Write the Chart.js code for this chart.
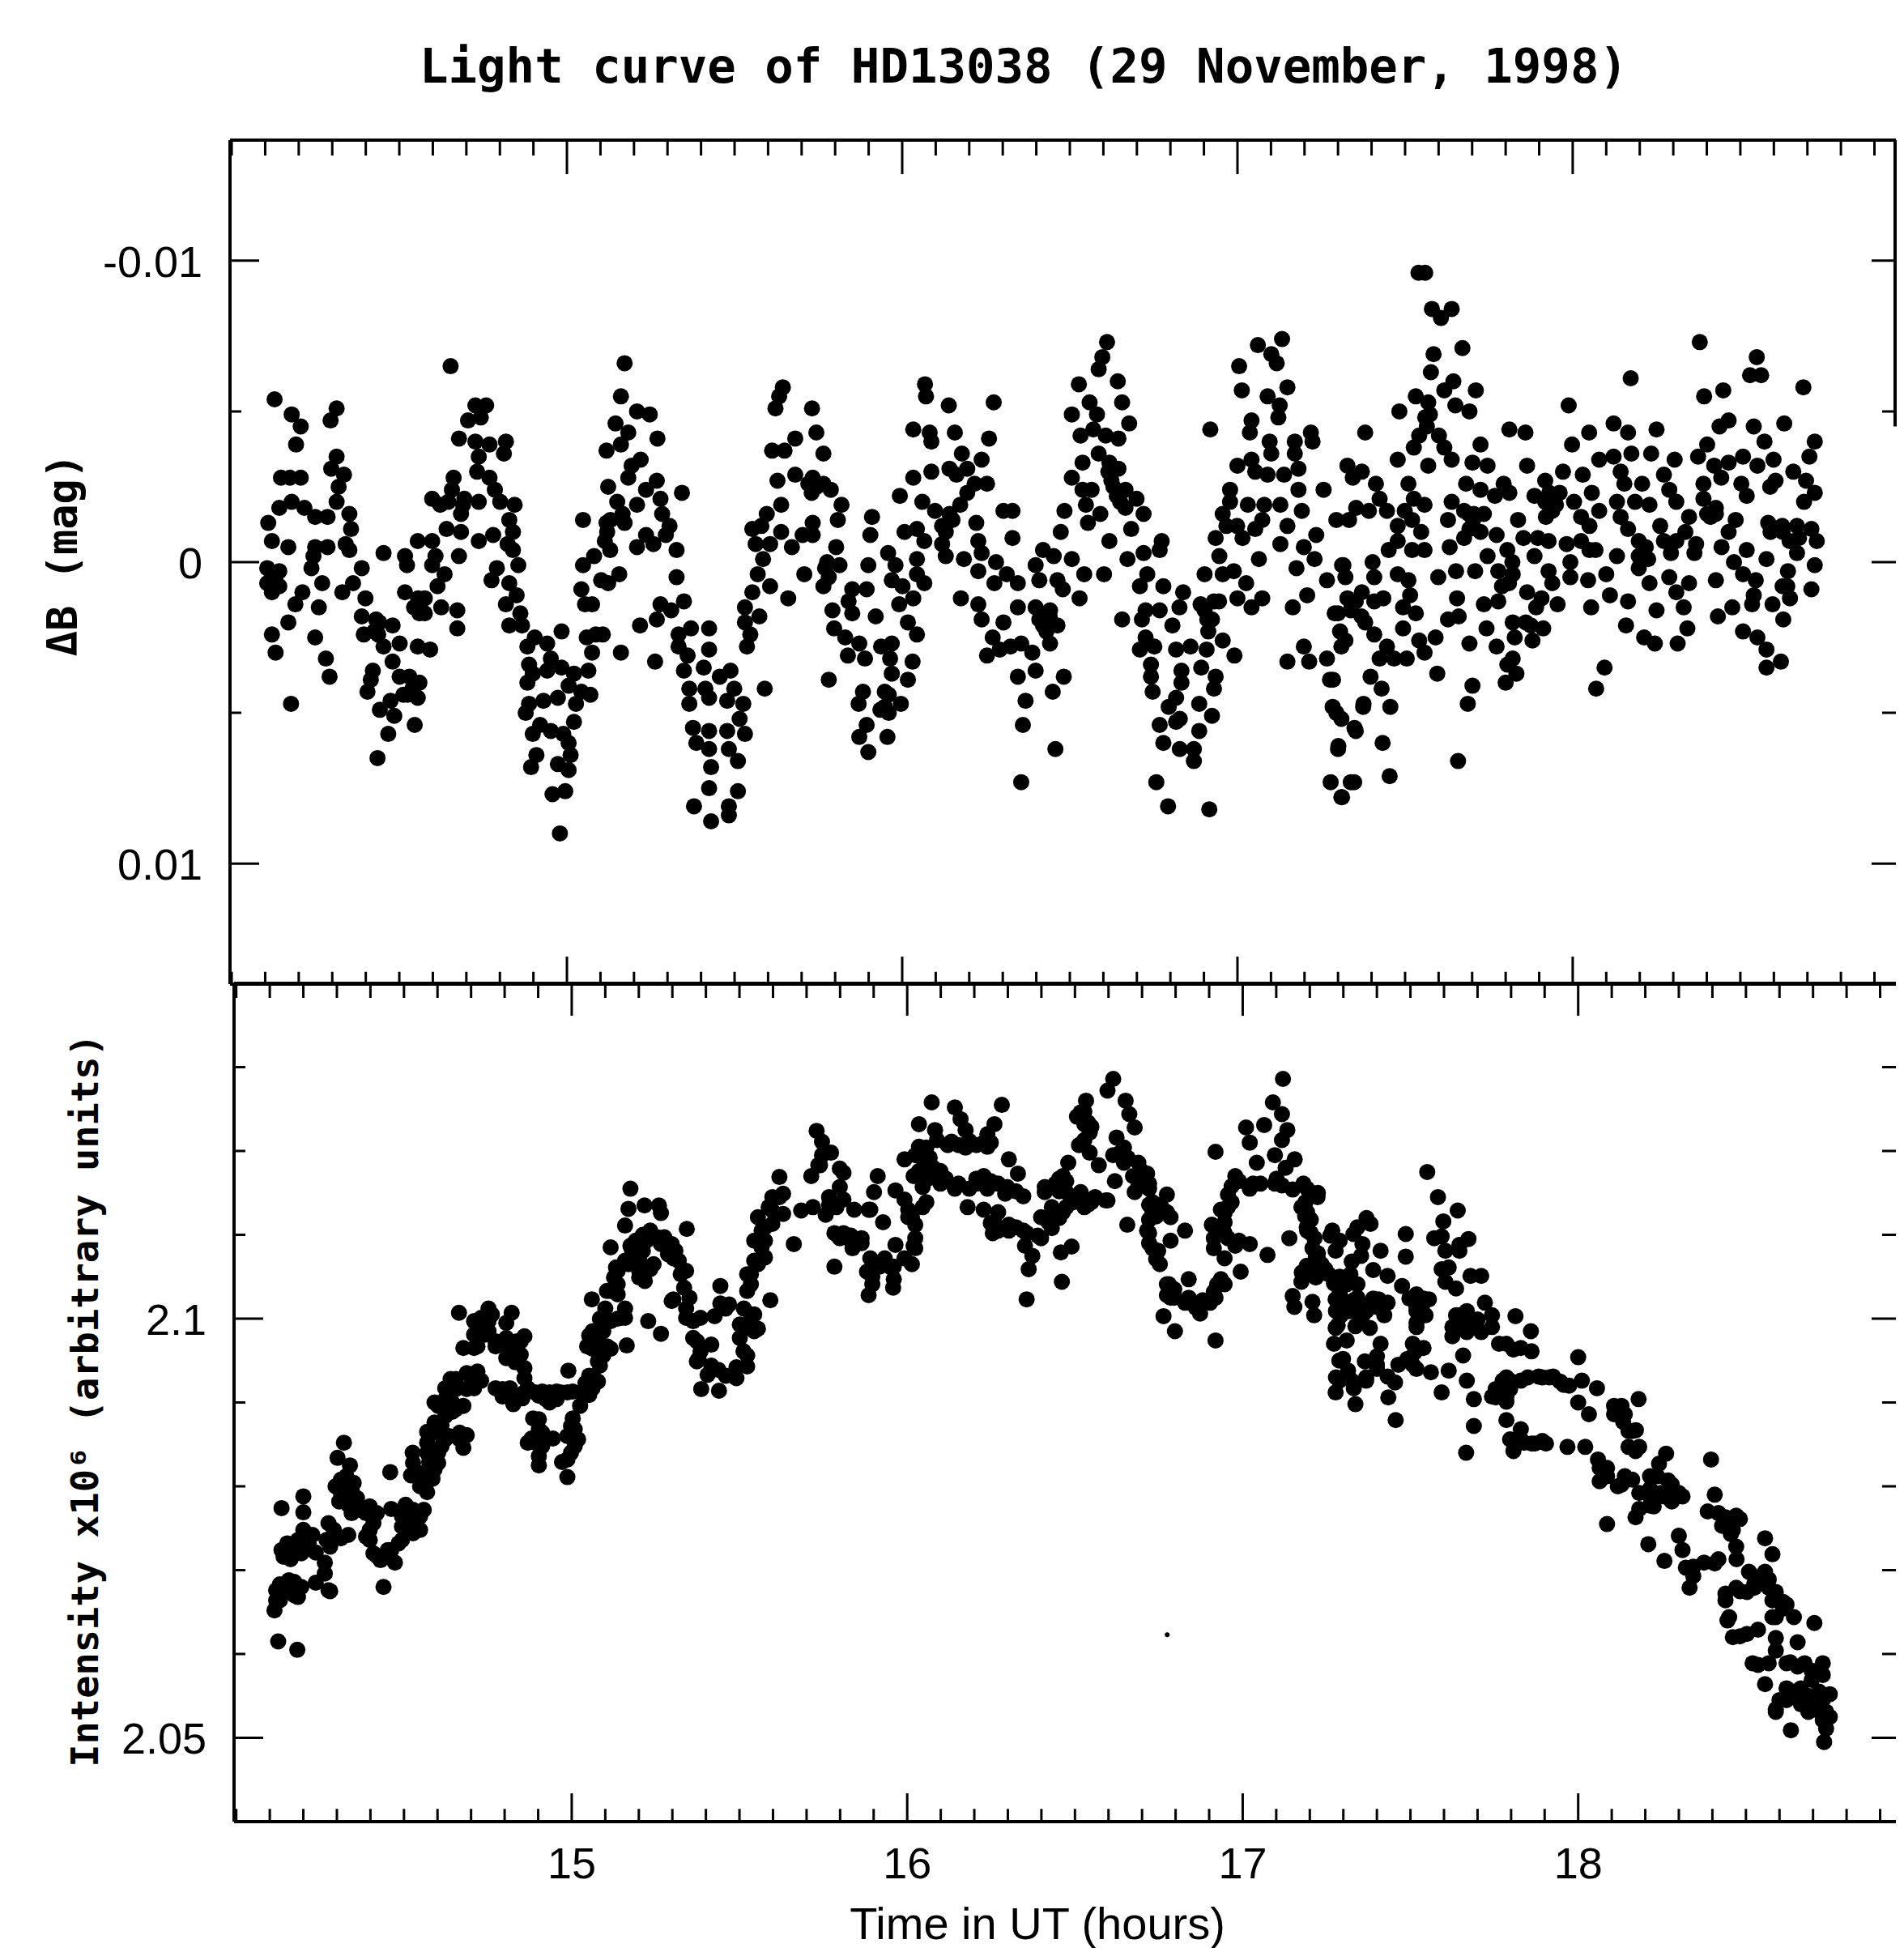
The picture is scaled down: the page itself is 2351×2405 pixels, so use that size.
<!DOCTYPE html>
<html>
<head>
<meta charset="utf-8">
<title>Light curve of HD13038</title>
<script src="https://cdn.jsdelivr.net/npm/chart.js@4"></script>
<style>
  html, body { margin: 0; padding: 0; background: #fff; }
  body { position: relative; width: 2351px; height: 2405px; overflow: hidden; }
  canvas { position: absolute; left: 0; }
  #topPanel { top: 0; }
  #bottomPanel { top: 1204px; }
  .label { position: absolute; color: #000; white-space: nowrap; transform: translate(-50%, -50%); }
  .rot { transform: translate(-50%, -50%) rotate(-90deg); }
  .hershey { font-family: "DejaVu Sans Mono", monospace; font-weight: bold; }
  .plain { font-family: "Liberation Sans", Arial, sans-serif; }
</style>
</head>
<body>
<div class="label hershey" style="left:1264px;top:81px;font-size:59px">Light curve of HD13038 (29 November, 1998)</div>
<div class="label rot hershey" style="left:77px;top:685px;font-size:52px">ΔB (mag)</div>
<div class="label rot hershey" style="left:104px;top:1729px;font-size:47px">Intensity x10⁶ (arbitrary units)</div>
<div class="label plain" style="left:1281px;top:2374px;font-size:56px">Time in UT (hours)</div>
<canvas id="topPanel" width="2351" height="1225"></canvas>
<canvas id="bottomPanel" width="2351" height="1201"></canvas>
<script>
// x ticks, one every 0.1 h, labelled on the hour
const hourTicks = [14,14.1,14.2,14.3,14.4,14.5,14.6,14.7,14.8,14.9,15,15.1,15.2,15.3,15.4,15.5,15.6,15.7,15.8,15.9,16,16.1,16.2,16.3,16.4,16.5,16.6,16.7,16.8,16.9,17,17.1,17.2,17.3,17.4,17.5,17.6,17.7,17.8,17.9,18,18.1,18.2,18.3,18.4,18.5,18.6,18.7,18.8,18.9];
const hourLabels = [15, 16, 17, 18];
const dbTicks = [-0.01, -0.005, 0, 0.005, 0.01];
const dbLabels = [-0.01, 0, 0.01];
const intensityTicks = [2.05, 2.06, 2.07, 2.08, 2.09, 2.1, 2.11, 2.12, 2.13];
const intensityLabels = [2.05, 2.1];

// [time in UT, delta B]
const deltaB = [
[14.128,-.0054],[14.179,-.0049],[14.206,-.0045],[14.313,-.0051],[14.295,-.0047],[14.192,-.0039],[14.313,-.0035],[14.297,-.0031],[14.335,-.0029],[14.319,-.0025],[14.147,-.0028],[14.174,-.0028],[14.206,-.0028],
[14.142,-.0018],[14.179,-.0020],[14.217,-.0018],[14.249,-.0015],[14.286,-.0015],[14.313,-.0020],[14.351,-.0016],[14.356,-.0011],[14.340,-.0006],[14.286,-.0005],[14.249,-.0005],[14.109,-.0013],[14.120,-.0007],[14.169,-.0005],
[14.106,.0002],[14.131,.0006],[14.120,.0010],[14.142,.0003],[14.244,-.0002],[14.238,.0002],[14.270,.0007],[14.351,-.0004],[14.388,.0002],[14.362,.0007],[14.330,.0010],
[14.211,.0010],[14.190,.0014],[14.260,.0015],[14.169,.0020],[14.120,.0024],[14.131,.0030],[14.249,.0025],[14.281,.0032],[14.292,.0038],[14.177,.0047],[14.453,-.0003],
[14.399,.0012],[14.388,.0018],[14.431,.0019],[14.394,.0024],[14.437,.0024],[14.480,.0021],[14.453,.0028],[14.501,.0027],[14.555,.0028],[14.592,.0029],[14.480,.0033],[14.421,.0036],[14.415,.0039],[14.405,.0043],[14.501,.0038],[14.539,.0042],[14.512,.0044],[14.474,.0046],[14.442,.0049],[14.555,.0045],
[14.485,.0051],[14.546,.0054],[14.467,.0057],[14.435,.0065],
[14.517,-.0002],[14.523,.0001],[14.555,-.0007],[14.598,-.0007],[14.608,-.0002],[14.641,-.0011],[14.598,.0001],[14.635,.0004],
[14.517,.0010],[14.544,.0015],[14.576,.0012],[14.576,.0017],[14.614,.0008],[14.673,.0016],[14.673,.0022],[14.625,.0015],[14.678,-.0002],[14.653,-.0065],
[14.727,-.0052],[14.759,-.0052],[14.705,-.0047],[14.743,-.0048],[14.678,-.0041],[14.727,-.0040],[14.769,-.0039],[14.818,-.0040],[14.812,-.0036],[14.737,-.0035],[14.732,-.0030],[14.769,-.0028],[14.662,-.0028],[14.657,-.0024],[14.598,-.0021],[14.646,-.0020],[14.694,-.0021],[14.737,-.0020],[14.785,-.0024],[14.801,-.0020],[14.844,-.0019],[14.684,-.0016],[14.828,-.0014],[14.839,-.0010],[14.684,-.0010],[14.737,-.0007],[14.780,-.0009],[14.823,-.0006],[14.839,-.0004],[14.791,.0002],[14.775,.0006],[14.855,.0001],
[14.828,.0007],[14.850,.0011],[14.818,.0014],[14.861,.0017],[14.828,.0021],[14.866,.0021],[14.984,.0023],
[14.904,.0025],[14.882,.0028],[14.887,.0034],[14.941,.0027],[14.952,.0032],[14.898,.0037],[14.882,.0040],[14.941,.0036],[14.984,.0035],[15.021,.0037],[15.005,.0041],
[15.086,.0024],[15.059,.0025],[15.107,.0024],[15.075,.0030],[15.064,.0036],[15.161,.0030],[15.043,.0043],[15.070,.0044],[14.887,.0047],[14.930,.0046],[14.973,.0045],[14.877,.0050],[15.027,.0047],[15.021,.0053],[14.920,.0054],[14.898,.0057],[14.952,.0056],[14.989,.0057],[15.005,.0060],[15.011,.0064],[14.909,.0064],[14.893,.0068],[14.973,.0067],[15.005,.0069],[14.957,.0077],[14.995,.0076],[14.979,.0090],
[15.054,.0014],[15.075,.0014],[15.043,.0009],[15.048,.0001],[15.081,-.0002],[15.102,.0006],[15.156,.0004],[15.123,.0007],[15.048,-.0014],[15.118,-.0013],[15.113,-.0007],[15.129,-.0004],
[15.172,-.0066],[15.161,-.0055],[15.209,-.0050],[15.247,-.0049],[15.145,-.0046],[15.183,-.0043],[15.161,-.0039],[15.118,-.0037],[15.270,-.0041],
[15.220,-.0034],[15.193,-.0032],[15.183,-.0028],[15.268,-.0027],[15.123,-.0025],[15.150,-.0020],[15.236,-.0024],[15.279,-.0021],[15.343,-.0023],[15.166,-.0016],[15.209,-.0019],[15.284,-.0016],[15.306,-.0012],[15.236,-.0009],[15.295,-.0009],[15.209,-.0005],[15.258,-.0006],[15.327,-.0004],[15.172,-.0013],
[15.327,.0005],[15.279,.0014],[15.311,.0016],[15.349,.0013],[15.268,.0019],[15.218,.0021],
[15.333,.0024],[15.370,.0022],[15.424,.0022],[15.333,.0028],[15.360,.0031],[15.349,.0036],[15.424,.0029],[15.408,.0035],[15.263,.0033],[15.590,.0042],
[15.488,.0036],[15.456,.0038],[15.365,.0042],[15.413,.0042],[15.365,.0047],[15.424,.0045],[15.499,.0042],[15.526,.0047],[15.478,.0046],[15.515,.0052],
[15.376,.0055],[15.424,.0056],[15.478,.0056],[15.531,.0057],[15.386,.0060],[15.424,.0062],[15.483,.0062],[15.510,.0066],[15.430,.0068],[15.424,.0075],[15.510,.0076],[15.483,.0081],[15.483,.0084],[15.379,.0081],[15.430,.0086],
[15.537,.0028],[15.547,.0024],[15.531,.0020],[15.574,.0018],[15.531,.0015],[15.553,.0010],[15.606,.0008],[15.569,.0004],[15.585,-.0001],[15.563,-.0006],[15.553,-.0011],[15.660,.0012],[15.708,.0004],
[15.633,-.0055],[15.622,-.0051],[15.644,-.0058],[15.681,-.0041],[15.612,-.0037],[15.649,-.0037],[15.628,-.0027],[15.681,-.0029],[15.596,-.0016],[15.639,-.0019],[15.580,-.0012],[15.606,-.0006],[15.639,-.0010],[15.671,-.0005],[15.703,-.0009],
[15.731,-.0051],[15.744,-.0043],[15.765,-.0036],[15.733,-.0028],[15.765,-.0026],[15.787,-.0024],[15.819,-.0019],[15.808,-.0014],[15.733,-.0013],[15.733,-.0009],[15.910,-.0015],[15.905,-.0009],[15.899,.0001],
[15.803,-.0005],[15.776,.0000],[15.813,.0001],[15.781,.0005],[15.765,.0008],[15.851,.0009],[15.894,.0009],[15.840,.0013],[15.792,.0016],[15.851,.0017],[15.921,.0018],[15.797,.0022],[15.830,.0025],[15.872,.0027],[15.937,.0028],[15.969,.0027],[15.838,.0031],[15.889,.0032],[15.964,.0032],[16.031,.0033],[15.969,.0037],[16.017,.0039],[15.781,.0039],[15.948,.0043],[15.883,.0043],[15.870,.0047],[15.948,.0048],[15.996,.0047],[15.894,.0054],[15.872,.0058],[15.899,.0063],[15.956,.0058],
[15.958,-.0003],[15.980,.0001],[15.969,.0006],[16.001,.0008],[16.044,-.0001],[16.044,.0004],[16.066,.0007],[16.033,.0012],[15.991,.0014],[16.017,.0020],[16.044,.0024],[15.993,-.0022],
[16.068,-.0059],[16.071,-.0055],[16.139,-.0052],[16.273,-.0053],[16.033,-.0044],[16.082,-.0043],[16.087,-.0040],[16.157,-.0043],[16.259,-.0041],
[16.178,-.0036],[16.237,-.0034],[16.033,-.0028],[16.087,-.0030],[16.141,-.0031],[16.194,-.0031],[16.162,-.0029],[16.216,-.0026],[16.253,-.0026],[16.194,-.0023],[16.060,-.0020],[16.098,-.0017],[16.173,-.0019],[16.141,-.0016],[16.302,-.0017],[16.329,-.0008],[16.329,-.0017],
[16.221,-.0013],[16.119,-.0012],[16.007,-.0010],[16.044,-.0011],[16.066,-.0007],[16.119,-.0006],[16.227,-.0007],[16.130,-.0002],[16.184,-.0001],[16.237,-.0003],[16.227,.0003],[16.280,.0000],[16.312,.0004],[16.275,.0007],[16.345,.0007],
[16.420,-.0004],[16.398,.0001],[16.452,-.0002],[16.506,-.0001],[16.409,.0006],[16.463,.0006],[16.543,.0004],[16.602,.0004],[16.479,.0009],[16.529,.0012],[16.175,.0012],[16.473,-.0010],[16.484,-.0017],[16.618,-.0007],
[16.227,.0014],[16.237,.0019],[16.270,.0025],[16.302,.0020],[16.355,.0027],[16.323,.0028],[16.291,.0029],[16.253,.0031],[16.398,.0015],[16.441,.0016],[16.463,.0021],[16.409,.0019],[16.441,.0027],[16.388,.0030],[16.398,.0036],[16.345,.0015],[16.345,.0038],[16.482,.0038],[16.449,.0043],[16.368,.0046],[16.360,.0054],[16.457,.0062],[16.355,.0073],
[16.611,-.0073],[16.597,-.0068],[16.586,-.0064],[16.643,-.0060],[16.656,-.0053],[16.527,-.0059],[16.559,-.0053],[16.506,-.0049],[16.581,-.0049],[16.677,-.0046],[16.532,-.0042],[16.570,-.0044],[16.645,-.0041],[16.607,-.0042],[16.586,-.0036],[16.618,-.0033],[16.538,-.0033],[16.506,-.0028],[16.645,-.0031],[16.624,-.0027],[16.538,-.0024],[16.565,-.0024],[16.666,-.0024],[16.548,-.0019],[16.640,-.0022],[16.699,-.0021],[16.591,-.0016],[16.554,-.0013],[16.666,-.0018],[16.720,-.0016],[16.683,-.0011],
[16.774,-.0007],[16.768,-.0004],[16.720,-.0003],[16.672,-.0001],[16.731,.0004],[16.709,.0008],[16.779,.0008],
[16.656,.0019],[16.726,.0016],[16.768,.0016],[16.715,.0019],[16.806,.0021],[16.726,.0025],[16.709,.0029],[16.752,.0028],[16.817,.0029],[16.860,.0028],[16.908,.0029],[16.956,.0026],[16.991,.0031],
[16.742,.0034],[16.742,.0038],[16.747,.0043],[16.833,.0036],[16.833,.0040],[16.892,.0035],[16.935,.0038],[16.930,.0042],[16.817,.0045],[16.886,.0047],[16.795,.0048],[16.828,.0052],[16.924,.0051],[16.768,.0054],[16.817,.0053],[16.886,.0056],[16.779,.0060],[16.828,.0062],[16.870,.0062],[16.870,.0066],[16.758,.0073],[16.793,.0081],[16.916,.0082],
[16.838,.0010],[16.827,.0015],[16.902,.0016],[16.945,.0013],[16.924,.0019],[16.913,.0023],[17.042,.0015],[17.074,.0012],[17.000,.0012],[17.026,.0007],[16.902,.0004],[16.956,.0004],[16.989,.0003],[16.946,-.0002],[16.935,-.0008],[16.919,-.0044],[16.967,-.0012],[16.956,-.0016],
[17.133,-.0074],[17.061,-.0072],[17.101,-.0069],[17.117,-.0066],[17.005,-.0065],[17.013,-.0057],[17.090,-.0055],[17.149,-.0058],[17.126,-.0052],[17.122,-.0048],[17.042,-.0047],[17.037,-.0043],[17.219,-.0043],[17.224,-.0040],[17.096,-.0040],[17.101,-.0036],[17.171,-.0040],[17.171,-.0036],[17.042,-.0034],[17.000,-.0032],[17.053,-.0030],[17.182,-.0031],[17.090,-.0029],[17.139,-.0029],[16.978,-.0024],[16.978,-.0020],[17.182,-.0024],[17.257,-.0024],[17.031,-.0019],[17.080,-.0019],[17.128,-.0019],[17.192,-.0017],[17.074,-.0014],[16.999,-.0012],[17.053,-.0011],[17.149,-.0012],[17.015,-.0008],[17.128,-.0006],[17.235,-.0009],[17.198,-.0005],[17.064,-.0001],[17.230,-.0001],[17.176,.0002],[17.316,.0001],[17.267,.0006],[17.208,.0011],[17.165,.0015],
[17.198,.0028],[17.214,.0033],[17.267,.0032],[17.149,.0033],[17.276,.0039],[17.284,.0048],[17.310,.0052],[17.353,.0056],[17.300,.0062],[17.278,.0073],[17.348,.0073],[17.310,.0078],[17.375,.0048],[17.300,.0017],[17.353,.0013],[17.310,.0028],
[17.54,-.0096],[17.56,-.0096],[17.580,-.0084],[17.639,-.0084],[17.607,-.0081],[17.585,-.0069],[17.671,-.0071],[17.577,-.0063],
[17.644,-.0060],[17.617,-.0057],[17.711,-.0057],[17.532,-.0055],[17.569,-.0053],[17.483,-.0050],[17.650,-.0052],[17.692,-.0050],[17.574,-.0049],[17.381,-.0043],[17.542,-.0042],[17.601,-.0042],[17.526,-.0038],[17.617,-.0038],[17.478,-.0034],[17.569,-.0032],[17.639,-.0034],[17.725,-.0039],[17.701,-.0033],[17.746,-.0032],
[17.328,-.0032],[17.371,-.0030],[17.344,-.0028],[17.413,-.0026],[17.424,-.0021],[17.510,-.0026],[17.526,-.0021],[17.558,-.0019],
[17.354,-.0018],[17.295,-.0014],[17.333,-.0014],[17.392,-.0017],[17.446,-.0017],[17.499,-.0017],[17.478,-.0012],[17.521,-.0014],[17.478,-.0007],[17.548,-.0010],[17.558,-.0004],[17.521,-.0004],[17.451,-.0004],[17.403,.0000],
[17.312,.0001],[17.322,.0005],[17.408,.0005],[17.478,.0004],[17.510,.0006],[17.515,.0011],[17.494,.0015],
[17.371,.0010],[17.328,.0012],[17.408,.0013],[17.435,.0012],[17.290,.0017],[17.338,.0016],[17.306,.0023],[17.322,.0026],
[17.381,.0020],[17.408,.0024],[17.446,.0028],[17.424,.0032],[17.467,.0032],[17.505,.0032],
[17.397,.0038],[17.430,.0042],[17.376,.0047],[17.456,.0048],[17.285,.0039],[17.295,.0050],[17.349,.0055],[17.301,.0061],[17.433,.0060],[17.454,.0071],[17.338,.0073],[17.312,.0078],
[17.532,.0017],[17.494,.0022],[17.542,.0026],[17.591,.0025],[17.558,.0030],[17.628,.0019],[17.660,.0018],[17.655,.0012],[17.596,.0037],
[17.701,.0041],[17.687,.0047],[17.658,.0066],[17.692,.0027],[17.773,.0028],[17.743,.0022],[17.599,.0005],[17.652,.0003],[17.709,.0003],
[17.639,-.0020],[17.628,-.0014],[17.676,-.0017],[17.703,-.0014],[17.735,-.0016],[17.692,-.0011],[17.633,-.0005],[17.676,-.0008],[17.725,-.0010],[17.773,-.0009],[17.805,-.0004],
[17.682,-.0026],[17.725,-.0024],[17.794,-.0026],[17.811,-.0023],[17.768,-.0022],
[17.811,-.0044],[17.859,-.0043],[17.988,-.0052],[18.173,-.0061],[18.379,-.0073],[18.549,-.0068],[18.529,-.0062],[18.562,-.0062],[18.688,-.0058],[18.392,-.0055],[18.449,-.0057],
[17.864,-.0032],[17.998,-.0039],[18.049,-.0043],[17.971,-.0030],[18.030,-.0029],[18.122,-.0046],[18.165,-.0043],[18.250,-.0044],
[18.079,-.0034],[18.122,-.0035],[18.175,-.0036],[18.234,-.0036],[18.304,-.0034],[18.143,-.0030],[18.154,-.0026],[18.207,-.0026],[18.272,-.0029],[18.288,-.0024],[18.309,-.0020],[18.374,-.0035],[18.401,-.0039],[18.438,-.0045],[18.465,-.0047],[18.540,-.0045],[18.572,-.0040],[18.631,-.0046],[18.599,-.0034],[18.722,-.0040],[18.706,-.0035],
[18.422,-.0032],[18.465,-.0033],[18.508,-.0035],[18.551,-.0032],[18.390,-.0026],[18.443,-.0028],[18.503,-.0026],[18.519,-.0022],[18.605,-.0027],[18.589,-.0025],[18.658,-.0030],[18.696,-.0027],[18.722,-.0023],[18.690,-.0020],
[18.390,-.0021],[18.401,-.0016],[18.427,-.0016],
[17.918,-.0027],[17.886,-.0022],[17.918,-.0020],[17.961,-.0023],[18.004,-.0020],[18.057,-.0023],[17.837,-.0014],[17.939,-.0017],[18.025,-.0015],[18.079,-.0017],[18.132,-.0020],[18.186,-.0020],[18.229,-.0019],
[17.853,-.0008],[17.896,-.0008],[17.928,-.0007],[18.025,-.0007],[18.068,-.0004],[17.886,-.0002],[17.982,-.0006],[17.928,.0003],[17.993,.0000],[17.939,.0007],[17.993,.0005],[18.046,.0006],[18.100,.0004],[18.132,-.0002],[18.197,.0002],[18.143,-.0015],[18.165,-.0011],[18.197,-.0007],[18.261,-.0012],[18.272,-.0007],[18.309,-.0007],[18.218,-.0005],[18.197,-.0002],[18.347,-.0015],[18.411,-.0015],[18.427,-.0018],[18.336,-.0010],[18.368,-.0006],[18.293,-.0003],[18.363,-.0003],[18.288,.0005],[18.347,.0007],[18.229,.0007],[18.309,.0010],[18.331,.0015],[18.342,.0022],
[18.055,.0015],[18.111,.0011],[18.165,.0013],[18.250,.0016],[18.159,.0021],[18.213,.0025],[18.245,.0027],[18.313,.0027],[18.095,.0035],[18.070,.0042],
[17.746,-.0002],[17.778,.0003],[17.821,.0004],[17.789,.0008],[17.735,.0014],[17.778,.0013],[17.864,.0010],[17.907,.0012],[17.955,.0014],[17.891,.0015],[17.821,.0020],[17.875,.0021],[17.912,.0022],[17.827,.0025],[17.880,.0026],[17.821,.0032],[17.805,.0034],[17.832,.0037],[17.800,.0040],
[18.486,-.0014],[18.465,-.0010],[18.444,-.0005],[18.583,-.0013],[18.626,-.0010],[18.669,-.0012],[18.712,-.0011],[18.728,-.0007],[18.647,-.0007],[18.669,-.0003],[18.519,-.0004],[18.481,.0000],[18.578,-.0001],[18.722,.0001],[18.642,.0003],[18.626,.0008],[18.427,.0006],[18.508,.0004],[18.546,.0006],[18.540,.0011],[18.648,.0012],[18.712,.0009],[18.596,.0014],[18.535,.0014],[18.476,.0015],[18.433,.0018],[18.628,.0019],[18.508,.0023],[18.551,.0025],[18.578,.0029],[18.621,.0033],[18.578,.0035],
[14.120,.0004],[14.142,.0008],[14.106,.0007],[14.556,.0012],[14.560,.0017],[14.525,.0044],[14.560,.0040],[14.530,.0038],[14.425,.0023],[14.440,.0020],[14.622,-.0019],[14.690,-.0019],[15.120,-.0010],[15.130,-.0014],[15.720,-.0026],[15.745,-.0025],[15.730,-.0023],[15.770,.0002],[15.960,.0044],[15.960,.0050],[15.935,.0049],[16.615,-.0030],[16.630,-.0025],[16.650,-.0020],[16.910,.0019],[16.930,.0013],[16.890,.0014],[16.420,.0021],[16.440,.0018],[16.430,.0023],[17.340,.0014],[17.370,.0018],[16.130,-.0010],[16.150,-.0014],[17.560,-.0048],[17.565,-.0045],[17.930,-.0023],[17.950,-.0019],[17.920,-.0015],[17.705,-.0016],[17.690,-.0016],[17.810,.0007],[17.820,.0000],[18.590,-.0010],[18.625,-.0012],[18.675,-.0008],[18.640,.0008],[17.860,.0020],[18.050,-.0012],[18.050,-.0004],[18.205,-.0001],[18.225,-.0001]
];

// [time in UT, intensity]
const intensity = [
[14.125,2.0615],[14.182,2.0605],[14.114,2.0652],[14.119,2.0664],[14.130,2.0683],[14.173,2.0670],[14.157,2.0688],[14.280,2.0675],[14.237,2.0685],[14.162,2.0728],[14.216,2.0732],[14.269,2.0736],[14.312,2.0738],[14.162,2.0713],[14.237,2.0721],[14.264,2.0709],[14.264,2.0696],[14.200,2.0748],[14.200,2.0769],[14.200,2.0788],[14.135,2.0774],[14.275,2.0756],[14.439,2.0680],
[14.321,2.0852],[14.302,2.0834],[14.339,2.0825],[14.312,2.0808],[14.350,2.0804],[14.323,2.0788],[14.360,2.0786],[14.344,2.0773],[14.398,2.0776],[14.459,2.0817],[14.409,2.0756],[14.462,2.0773],[14.505,2.0778],[14.548,2.0764],[14.548,2.0748],[14.398,2.0736],[14.505,2.0748],[14.484,2.0732],[14.452,2.0717],[14.419,2.0717],[14.473,2.0709],
[14.569,2.0793],[14.585,2.0809],[14.521,2.0813],[14.575,2.0829],[14.526,2.0840],[14.569,2.0852],[14.612,2.0848],[14.677,2.0846],[14.687,2.0861],[14.569,2.0865],[14.612,2.0873],[14.644,2.0889],[14.591,2.0900],[14.623,2.0917],[14.655,2.0928],[14.687,2.0935],[14.719,2.0937],[14.709,2.0917],[14.644,2.0900],[14.677,2.0896],
[14.664,2.1007],[14.752,2.1012],[14.730,2.1001],[14.821,2.1007],[14.709,2.0981],[14.752,2.0985],[14.805,2.0995],[14.859,2.0979],[14.677,2.0965],[14.719,2.0967],[14.773,2.0967],[14.826,2.0969],[14.848,2.0957],[14.805,2.0953],[14.859,2.0941],[14.859,2.0929],
[14.773,2.0917],[14.816,2.0917],[14.794,2.0907],[14.826,2.0898],[14.869,2.0917],[14.912,2.0913],[14.955,2.0913],[15.003,2.0913],[14.934,2.0900],[14.853,2.0905],[14.990,2.0938],[15.041,2.0923],[15.062,2.0917],[15.025,2.0896],[15.052,2.0909],
[14.885,2.0881],[14.880,2.0857],[14.912,2.0864],[14.902,2.0836],[14.902,2.0825],[14.944,2.0857],[15.003,2.0881],[15.003,2.0861],[14.998,2.0840],[14.971,2.0829],[14.987,2.0811],
[15.078,2.0925],[15.078,2.0949],[15.046,2.0967],[15.105,2.0967],[15.062,2.0985],[15.094,2.0993],[15.116,2.0997],[15.164,2.0968],[15.159,2.1012],[15.100,2.1012],[15.116,2.1033],[15.060,2.1023],[15.137,2.1041],
[15.116,2.1085],[15.132,2.1061],[15.180,2.1066],[15.218,2.1045],[15.234,2.1059],[15.159,2.1111],[15.175,2.1087],[15.212,2.1100],[15.212,2.1081],[15.255,2.1097],[15.298,2.1089],[15.303,2.1072],[15.175,2.1155],[15.169,2.1131],[15.217,2.1135],[15.260,2.1135],[15.266,2.1126],[15.343,2.1107],
[15.325,2.1053],[15.335,2.1037],[15.303,2.1023],[15.341,2.1012],[15.362,2.0997],[15.362,2.0977],[15.384,2.0961],[15.228,2.0997],[15.266,2.0982],[15.592,2.1022],[15.443,2.1039],[15.443,2.1018],
[15.384,2.1001],[15.426,2.1003],[15.459,2.1012],[15.513,2.1012],[15.523,2.0993],[15.501,2.0977],[15.512,2.0961],[15.523,2.0943],[15.416,2.0969],[15.405,2.0933],[15.491,2.0929],[15.437,2.0939],[15.386,2.0916],[15.439,2.0914],[15.534,2.1005],[15.555,2.0988],
[15.523,2.1033],[15.534,2.1053],[15.544,2.1069],[15.566,2.1085],[15.576,2.1109],[15.555,2.1121],[15.598,2.1129],[15.619,2.1145],[15.662,2.1089],[15.619,2.1169],
[15.730,2.1224],[15.746,2.1211],[15.773,2.1198],[15.740,2.1183],[15.810,2.1174],[15.799,2.1157],[15.714,2.1170],[15.719,2.1133],[15.757,2.1124],[15.789,2.1133],[15.842,2.1130],[15.890,2.1130],[15.912,2.1170],[15.901,2.1151],
[15.783,2.1102],[15.832,2.1099],[15.864,2.1096],[15.837,2.1084],[15.928,2.1115],[15.965,2.1088],[15.783,2.1062],[15.890,2.1072],[15.933,2.1072],[15.992,2.1072],[16.014,2.1065],[16.024,2.1096],[16.024,2.1112],[15.880,2.1056],[15.896,2.1041],[15.885,2.1028],[15.960,2.1047],[15.958,2.1037],
[16.073,2.1258],[16.142,2.1252],[16.159,2.1238],[16.282,2.1255],[16.035,2.1232],[16.260,2.1232],[16.083,2.1225],[16.174,2.1225],[16.239,2.1220],[16.089,2.1213],[16.035,2.1205],[16.132,2.1211],[16.185,2.1212],[16.239,2.1205],[15.992,2.1190],[16.067,2.1192],[16.078,2.1180],[16.019,2.1170],[16.062,2.1167],[15.965,2.1153],[15.992,2.1142],[16.046,2.1157],[16.057,2.1139],[16.003,2.1130],
[16.115,2.1167],[16.153,2.1161],[16.206,2.1161],[16.249,2.1164],[16.298,2.1157],[16.303,2.1190],[16.330,2.1173],[16.180,2.1133],[16.228,2.1130],[16.249,2.1114],[16.255,2.1102],[16.303,2.1112],[16.346,2.1105],[16.389,2.1099],[16.431,2.1108],[16.453,2.1120],[16.474,2.1133],[16.351,2.1087],[16.373,2.1075],[16.362,2.1059],[16.458,2.1079],[16.490,2.1086],[16.461,2.1044],[16.356,2.1023],
[16.480,2.1186],[16.453,2.1167],[16.410,2.1157],[16.474,2.1151],[16.517,2.1151],[16.560,2.1145],[16.597,2.1141],[16.528,2.1133],
[16.614,2.1286],[16.597,2.1272],[16.533,2.1260],[16.651,2.1260],[16.517,2.1246],[16.662,2.1244],[16.539,2.1234],[16.678,2.1228],[16.544,2.1222],[16.512,2.1207],[16.624,2.1216],[16.544,2.1198],[16.635,2.1198],[16.619,2.1164],[16.571,2.1183],[16.689,2.1186],[16.715,2.1173],[16.673,2.1170],[16.678,2.1151],[16.721,2.1161],[16.774,2.1148],[16.721,2.1136],[16.758,2.1133],[16.742,2.1122],[16.785,2.1121],[16.656,2.1112],[16.715,2.1105],[16.721,2.1090],[16.748,2.1081],[16.753,2.1065],[16.780,2.1041],[16.785,2.1025],[16.828,2.1019],[16.873,2.1006],[16.919,2.1025],[16.924,2.1041],[16.839,2.1047],[16.881,2.1022],[16.764,2.1003],[16.798,2.0985],[16.919,2.0974],
[16.828,2.1105],[16.908,2.1112],[16.914,2.1096],[16.785,2.1093],[16.978,2.1087],[17.074,2.1076],[16.994,2.1056],[16.946,2.1072],[16.946,2.1126],[16.956,2.1148],[16.989,2.1164],[16.919,2.1199],[17.010,2.1228],[17.021,2.1210],[17.064,2.1231],[17.090,2.1258],[17.117,2.1244],[17.133,2.1225],[17.117,2.1213],[17.120,2.1286],[17.096,2.1195],[17.155,2.1190],[17.042,2.1186],[17.128,2.1180],[17.101,2.1167],[17.149,2.1154],[17.224,2.1150],[17.187,2.1139],[17.187,2.1122],[17.192,2.1105],[17.139,2.1096],[17.021,2.1089],[17.053,2.1161],[16.946,2.1102],
[17.267,2.1105],[17.289,2.1093],[17.342,2.1109],[17.369,2.1120],[17.208,2.1084],[17.235,2.1065],[17.176,2.1055],[17.246,2.1056],[17.321,2.1053],[17.353,2.1075],[17.149,2.1027],[17.208,2.1020],[17.289,2.1031],[17.342,2.1041],[17.331,2.1022],[17.278,2.1009],[17.283,2.0992],[17.310,2.0974],[17.299,2.0952],[17.278,2.0930],[17.331,2.0917],[17.364,2.0949],[17.353,2.1003],
[17.550,2.1175],[17.582,2.1145],[17.641,2.1129],[17.598,2.1116],[17.381,2.1113],[17.486,2.1101],[17.571,2.1096],[17.673,2.1095],[17.330,2.1101],[17.261,2.1099],[17.357,2.1089],[17.277,2.1081],[17.411,2.1081],[17.486,2.1074],[17.604,2.1081],[17.646,2.1081],[17.614,2.1061],[17.679,2.1051],[17.711,2.1051],[17.636,2.1036],[17.175,2.1133],[17.223,2.1145],[17.191,2.1109],
[17.218,2.1074],[17.191,2.1063],[17.250,2.1054],[17.175,2.1044],[17.272,2.1042],[17.325,2.1068],[17.389,2.1058],[17.432,2.1051],[17.475,2.1039],[17.518,2.1029],[17.518,2.1009],[17.545,2.1004],[17.555,2.1023],[17.277,2.1023],[17.320,2.1009],[17.368,2.1009],[17.405,2.1023],[17.422,2.1004],[17.277,2.0989],[17.336,2.0991],[17.379,2.0989],
[17.154,2.1014],[17.213,2.1004],[17.272,2.0970],[17.288,2.0950],[17.314,2.0938],[17.288,2.0926],[17.277,2.0912],[17.336,2.0898],[17.325,2.0926],[17.368,2.0926],[17.400,2.0945],[17.432,2.0931],[17.434,2.0906],[17.454,2.0924],[17.456,2.0879],[17.411,2.0970],[17.513,2.0960],[17.539,2.0965],[17.491,2.0952],[17.518,2.0940],[17.593,2.0912],[17.561,2.0936],[17.614,2.0938],[17.668,2.0926],[17.657,2.0956],
[18.000,2.0954],[17.813,2.1003],[17.859,2.0985],[17.636,2.1004],[17.668,2.1009],[17.722,2.1019],[17.743,2.1004],[17.625,2.0979],[17.668,2.0984],[17.711,2.0984],[17.764,2.0970],[17.807,2.0963],[17.861,2.0961],[17.689,2.0872],[17.666,2.0840],[17.689,2.0904],
[17.743,2.0907],[17.786,2.0907],[17.775,2.0926],[17.829,2.0926],[17.882,2.0931],[17.925,2.0931],[17.973,2.0920],[18.011,2.0926],[18.056,2.0917],[18.000,2.0900],[18.032,2.0886],[18.180,2.0904],[18.112,2.0886],
[17.786,2.0879],[17.829,2.0868],[17.807,2.0852],[17.839,2.0852],[17.893,2.0854],[17.968,2.0847],[18.021,2.0847],[18.161,2.0866],[18.182,2.0847],[18.150,2.0847],[18.134,2.0877],
[18.059,2.0832],[18.086,2.0822],[18.064,2.0806],[18.118,2.0800],[18.161,2.0808],[18.262,2.0839],[18.241,2.0827],[18.396,2.0832],[18.214,2.0812],[18.279,2.0802],[18.311,2.0788],[18.257,2.0788],[18.214,2.0788],[18.171,2.0763],[18.225,2.0776],[18.086,2.0755],[18.407,2.0790],[18.386,2.0770],[18.439,2.0763],[18.482,2.0761],[18.455,2.0743],[18.557,2.0738],[18.579,2.0719],[18.209,2.0731],
[18.300,2.0741],[18.257,2.0711],[18.311,2.0724],[18.343,2.0704],[18.332,2.0679],[18.375,2.0709],[18.418,2.0713],[18.472,2.0713],[18.509,2.0698],[18.546,2.0693],[18.525,2.0679],[18.568,2.0679],[18.439,2.0672],[18.482,2.0675],[18.611,2.0662],[18.643,2.0644],[18.579,2.0644],[18.445,2.0640],[18.482,2.0621],[18.536,2.0629],[18.589,2.0619],[18.589,2.0604],[18.704,2.0637],[18.654,2.0614],[18.520,2.0589],[18.568,2.0589],[18.621,2.0589],[18.675,2.0589],[18.729,2.0589],[18.696,2.0569],[18.557,2.0564],[18.621,2.0559],[18.664,2.0559],[18.718,2.0555],[18.750,2.0552],[18.589,2.0534],[18.675,2.0539],[18.718,2.0532],[18.750,2.0525],[18.739,2.0511],[18.733,2.0495],[18.634,2.0509],
[14.141,2.0680],[14.173,2.0686],[14.130,2.0664],[14.184,2.0668],[14.152,2.0732],[14.141,2.0716],[14.194,2.0720],[14.184,2.0736],[14.280,2.0728],[14.334,2.0742],[14.227,2.0742],[14.291,2.0748],[14.275,2.0676],
[14.312,2.0792],[14.334,2.0778],[14.344,2.0796],[14.366,2.0772],[14.387,2.0768],[14.419,2.0768],[14.494,2.0764],[14.527,2.0772],[14.398,2.0748],[14.494,2.0736],[14.452,2.0724],[14.430,2.0712],[14.527,2.0756],[14.559,2.0772],
[14.559,2.0816],[14.591,2.0820],[14.548,2.0800],[14.527,2.0828],[14.602,2.0840],[14.591,2.0864],[14.634,2.0860],[14.666,2.0856],[14.623,2.0884],[14.655,2.0892],[14.623,2.0904],[14.634,2.0916],[14.698,2.0920],[14.730,2.0926],
[14.730,2.0993],[14.762,2.1005],[14.719,2.0977],[14.805,2.0965],[14.837,2.0960],[14.832,2.0948],[14.848,2.0973],[14.709,2.0965],
[14.805,2.0912],[14.837,2.0908],[14.902,2.0908],[14.934,2.0912],[14.966,2.0912],[15.030,2.0912],[14.902,2.0868],[14.869,2.0852],[14.912,2.0848],[14.987,2.0860],[15.009,2.0868],[15.009,2.0848],[14.987,2.0832],
[15.052,2.0932],[15.094,2.0956],[15.052,2.0980],[15.078,2.0972],[15.084,2.1000],[15.137,2.1000],[15.159,2.1001],[15.105,2.1033],[15.137,2.1057],[15.159,2.1069],[15.201,2.1073],[15.191,2.1093],[15.234,2.1105],[15.276,2.1097],[15.201,2.1057],[15.244,2.1065],[15.319,2.1069],[15.341,2.1057],[15.309,2.1081],[15.351,2.1025],[15.373,2.0949],[15.416,2.0944],[15.480,2.0932],[15.523,2.0956],[15.501,2.0993],[15.544,2.1005],[15.469,2.1017],[15.534,2.1041],[15.544,2.1093],[15.587,2.1133],[15.576,2.1073],[15.566,2.1105],[15.598,2.1145],[15.630,2.1125],[15.630,2.1149],[15.684,2.1129],
[15.746,2.1195],[15.767,2.1145],[15.810,2.1142],[15.799,2.1096],[15.832,2.1093],[15.864,2.1090],[15.917,2.1062],[15.960,2.1062],[16.019,2.1087],[16.014,2.1121],[16.046,2.1133],[16.035,2.1176],[16.057,2.1204],[16.099,2.1176],[16.142,2.1155],[16.185,2.1155],[16.239,2.1155],[16.292,2.1149],[16.346,2.1146],[16.153,2.1207],[16.206,2.1207],[16.121,2.1207],[16.249,2.1210],[16.046,2.1192],[16.228,2.1170],[16.271,2.1127],[16.271,2.1105],[16.324,2.1109],[16.399,2.1121],[16.431,2.1133],[16.410,2.1151],[16.464,2.1170],[16.442,2.1161],[16.496,2.1139],[16.549,2.1139],
[16.528,2.1247],[16.549,2.1229],[16.528,2.1213],[16.646,2.1204],[16.657,2.1192],[16.699,2.1176],[16.689,2.1158],[16.731,2.1139],[16.731,2.1127],[16.721,2.1102],[16.774,2.1041],[16.796,2.1025],[16.839,2.1025],[16.903,2.1019],[16.935,2.1047],[16.914,2.1084],[16.956,2.1096],[16.946,2.1115],[16.967,2.1139],[17.096,2.1161],[17.192,2.1155],[17.021,2.1155],[17.192,2.1127],[17.203,2.1102],[17.224,2.1078],[17.256,2.1053],[17.310,2.1047],[17.342,2.1025],[17.299,2.1022],
[17.186,2.1123],[17.229,2.1064],[17.218,2.1049],[17.325,2.1014],[17.357,2.1014],[17.389,2.1024],[17.432,2.1019],[17.497,2.1024],[17.539,2.1024],[17.518,2.0995],[17.507,2.0970],[17.400,2.0955],[17.314,2.0930],[17.593,2.1098],[17.646,2.1088],[17.593,2.1059],[17.604,2.1044],[17.668,2.1004],[17.700,2.0999],[17.647,2.0994],[17.786,2.0970],[17.786,2.0930],[17.797,2.0916],[17.754,2.0906],[17.893,2.0930],[17.957,2.0921],[17.829,2.0856],[17.871,2.0851],[17.807,2.0842],[18.064,2.0822],[18.139,2.0812],[18.172,2.0867],[18.107,2.0886],[18.214,2.0797],[18.246,2.0792],[18.279,2.0782],[18.182,2.0773],[18.461,2.0748],[18.429,2.0753],[18.536,2.0689],[18.568,2.0689],[18.503,2.0674],[18.589,2.0674],[18.621,2.0659],[18.589,2.0644],[18.471,2.0679],[18.450,2.0644],[18.632,2.0590],[18.696,2.0580],[18.729,2.0575],[18.686,2.0550],[18.686,2.0531],[18.729,2.0545],[18.643,2.0555],[18.600,2.0545],[18.729,2.0521],
[14.152,2.0676],[14.119,2.0676],[14.194,2.0680],[14.135,2.0724],[14.328,2.0812],[14.296,2.0800],[14.307,2.0782],[14.344,2.0768],[14.494,2.0752],[14.462,2.0724],[14.387,2.0740],[14.527,2.0744],[14.409,2.0720],
[14.569,2.0840],[14.602,2.0828],[14.559,2.0800],[14.623,2.0856],[14.591,2.0876],[14.666,2.0864],[14.655,2.0916],[14.602,2.0896],[14.639,2.0928],[14.687,2.0916],[14.709,2.0932],
[14.741,2.0981],[14.773,2.0973],[14.805,2.0977],[14.837,2.0973],[14.709,2.0997],[14.752,2.0997],[14.794,2.0916],[14.859,2.0912],[14.891,2.0912],[14.923,2.0904],[14.955,2.0904],[14.987,2.0912],[15.052,2.0916],
[14.891,2.0852],[14.902,2.0880],[14.998,2.0872],[15.019,2.0856],[15.084,2.0944],[15.068,2.0928],[15.062,2.0964],[15.094,2.0985],[15.116,2.0964],[15.148,2.1001],[15.137,2.1029],[15.126,2.1049],
[15.180,2.1081],[15.223,2.1093],[15.266,2.1089],[15.201,2.1049],[15.228,2.1061],[15.287,2.1077],[15.330,2.1057],[15.169,2.1065],[15.298,2.1021],[15.341,2.1001],[15.373,2.0973],[15.378,2.0952],[15.534,2.0997],[15.544,2.0985],[15.518,2.0989],[15.491,2.0942],[15.459,2.0932],
[15.555,2.1065],[15.523,2.1053],[15.576,2.1093],[15.598,2.1113],[15.767,2.1136],[15.735,2.1183],[15.799,2.1179],[15.810,2.1102],[15.842,2.1090],[15.885,2.1130],[16.003,2.1121],[16.024,2.1084],[15.949,2.1062],[15.896,2.1050],
[16.024,2.1195],[16.067,2.1183],[16.099,2.1161],[16.174,2.1204],[16.228,2.1210],[16.206,2.1167],[16.271,2.1161],[16.324,2.1152],[16.260,2.1115],[16.303,2.1105],[16.356,2.1102],[16.399,2.1096],[16.421,2.1115],[16.464,2.1127],
[16.453,2.1152],[16.474,2.1164],[16.506,2.1142],[16.539,2.1136],[16.592,2.1141],[16.506,2.1241],[16.528,2.1232],[16.614,2.1195],[16.646,2.1186],[16.689,2.1170],[16.721,2.1155],[16.742,2.1136],[16.774,2.1127],[16.721,2.1118],[16.731,2.1084],[16.742,2.1071],
[16.796,2.1035],[16.774,2.1028],[16.860,2.1013],[16.914,2.1032],[16.946,2.1041],[16.978,2.1170],[16.956,2.1133],[16.989,2.1093],[17.181,2.1161],[17.117,2.1159],[17.031,2.1161],[16.967,2.1158],[16.935,2.1130],[17.203,2.1118],[17.214,2.1096],
[17.224,2.1071],[17.246,2.1059],[17.289,2.1050],[17.203,2.1053],[17.310,2.1041],[17.310,2.1010],
[17.293,2.1004],[17.357,2.1004],[17.400,2.1014],[17.518,2.1014],[17.534,2.1014],[17.507,2.0945],[17.464,2.0945],[17.400,2.0940],[17.368,2.0930],[17.518,2.0990],
[17.647,2.1004],[17.689,2.0995],[17.625,2.0990],[17.743,2.0990],[17.829,2.0965],[17.797,2.0926],[17.850,2.0930],[17.914,2.0930],[17.754,2.0916],[17.786,2.0901],[17.946,2.0925],
[17.818,2.0851],[17.861,2.0851],[17.904,2.0851],[17.797,2.0856],[18.107,2.0896],[18.139,2.0886],[18.129,2.0896],[18.171,2.0842],[18.150,2.0866],
[18.086,2.0812],[18.129,2.0802],[18.182,2.0792],[18.236,2.0812],[18.300,2.0792],[18.268,2.0807],[18.214,2.0777],
[18.321,2.0703],[18.343,2.0693],[18.407,2.0708],[18.471,2.0728],[18.418,2.0768],[18.471,2.0765],
[18.525,2.0684],[18.557,2.0698],[18.579,2.0664],[18.611,2.0654],[18.439,2.0664],[18.503,2.0624],[18.461,2.0620],[18.536,2.0587],[18.654,2.0585],
[18.621,2.0545],[18.664,2.0540],[18.707,2.0535],[18.739,2.0531],[18.589,2.0531]
];

// lone speck below the curve in the lower panel
const speck = [[16.775, 2.0623]];

const TICK_FONT = { family: '"Liberation Sans", Arial, sans-serif', size: 54 };

const axisFrame = {
    id: 'axisFrame',
    afterDraw(chart, args, opts) {
        const { ctx, chartArea: a, scales: { x, y } } = chart;
        ctx.save();
        ctx.strokeStyle = '#000';
        ctx.lineCap = 'butt';

        ctx.lineWidth = 3;
        ctx.beginPath();
        x.ticks.forEach((t) => {
            const len = hourLabels.includes(t.value) ? 1 : 0.45;
            const px = x.getPixelForValue(t.value);
            ctx.moveTo(px, a.top);
            ctx.lineTo(px, a.top + opts.topTick * len);
            ctx.moveTo(px, a.bottom);
            ctx.lineTo(px, a.bottom - opts.bottomTick * len);
        });
        y.ticks.forEach((t) => {
            const major = opts.majorY.includes(t.value);
            const py = y.getPixelForValue(t.value);
            ctx.moveTo(a.left, py);
            ctx.lineTo(a.left + (major ? 36 : 14), py);
            ctx.moveTo(a.right, py);
            ctx.lineTo(a.right - (major ? 30 : 17), py);
        });
        ctx.stroke();

        ctx.lineWidth = 4;
        ctx.beginPath();
        ctx.moveTo(a.left, a.top);
        ctx.lineTo(a.right, a.top);
        ctx.moveTo(a.left, a.bottom);
        ctx.lineTo(a.right, a.bottom);
        ctx.moveTo(a.left, a.top);
        ctx.lineTo(a.left, a.bottom);
        if (opts.rightLineTo !== null) {
            ctx.moveTo(a.right - 1, a.top);
            ctx.lineTo(a.right - 1, y.getPixelForValue(opts.rightLineTo));
        }
        ctx.stroke();
        ctx.restore();
    },
};

function panelOptions({ xMin, xMax, yMin, yMax, reverse, yTicks, yLabels, axisWidth, xHeight, showHours, padding, frame }) {
    return {
        responsive: false,
        animation: false,
        layout: { padding },
        plugins: {
            legend: { display: false },
            tooltip: { enabled: false },
            axisFrame: frame,
        },
        scales: {
            x: {
                type: 'linear',
                min: xMin,
                max: xMax,
                border: { display: false },
                grid: { display: false, drawTicks: false },
                afterBuildTicks: (s) => { s.ticks = hourTicks.map((value) => ({ value })); },
                // keep tick labels from pushing the plot area in
                afterFit: (s) => { s.height = xHeight; s.paddingLeft = 0; s.paddingRight = 0; },
                ticks: {
                    display: showHours,
                    autoSkip: false,
                    maxRotation: 0,
                    padding: 23,
                    color: '#000',
                    font: TICK_FONT,
                    callback: (v) => (hourLabels.includes(v) ? String(v) : ''),
                },
            },
            y: {
                type: 'linear',
                min: yMin,
                max: yMax,
                reverse,
                border: { display: false },
                grid: { display: false, drawTicks: false },
                afterBuildTicks: (s) => { s.ticks = yTicks.map((value) => ({ value })); },
                afterFit: (s) => { s.width = axisWidth; s.paddingTop = 0; s.paddingBottom = 0; },
                ticks: {
                    autoSkip: false,
                    padding: 34,
                    labelOffset: 5,
                    color: '#000',
                    font: TICK_FONT,
                    callback: (v) => (yLabels.includes(v) ? String(v) : ''),
                },
            },
        },
    };
}

const toPoints = (rows) => rows.map(([x, y]) => ({ x, y }));

new Chart(document.getElementById('topPanel'), {
    type: 'scatter',
    data: {
        datasets: [{ data: toPoints(deltaB), pointRadius: 10, borderWidth: 0, backgroundColor: '#000' }],
    },
    options: panelOptions({
        xMin: 13.995, xMax: 18.964, yMin: -0.014, yMax: 0.014, reverse: true,
        yTicks: dbTicks, yLabels: dbLabels, axisWidth: 284, xHeight: 0, showHours: false,
        padding: { top: 173, bottom: 1, left: 0, right: 0 },
        frame: { majorY: dbLabels, topTick: 42, bottomTick: 34, rightLineTo: -0.0045 },
    }),
    plugins: [axisFrame],
});

new Chart(document.getElementById('bottomPanel'), {
    type: 'scatter',
    data: {
        datasets: [
            { data: toPoints(intensity), pointRadius: 10, borderWidth: 0, backgroundColor: '#000' },
            { data: toPoints(speck), pointRadius: 3, borderWidth: 0, backgroundColor: '#000' },
        ],
    },
    options: panelOptions({
        xMin: 13.9935, xMax: 18.947, yMin: 2.04, yMax: 2.14, reverse: false,
        yTicks: intensityTicks, yLabels: intensityLabels, axisWidth: 289, xHeight: 156, showHours: true,
        padding: { top: 5, bottom: 0, left: 0, right: 0 },
        frame: { majorY: intensityLabels, topTick: 40, bottomTick: 35, rightLineTo: null },
    }),
    plugins: [axisFrame],
});
</script>
</body>
</html>
